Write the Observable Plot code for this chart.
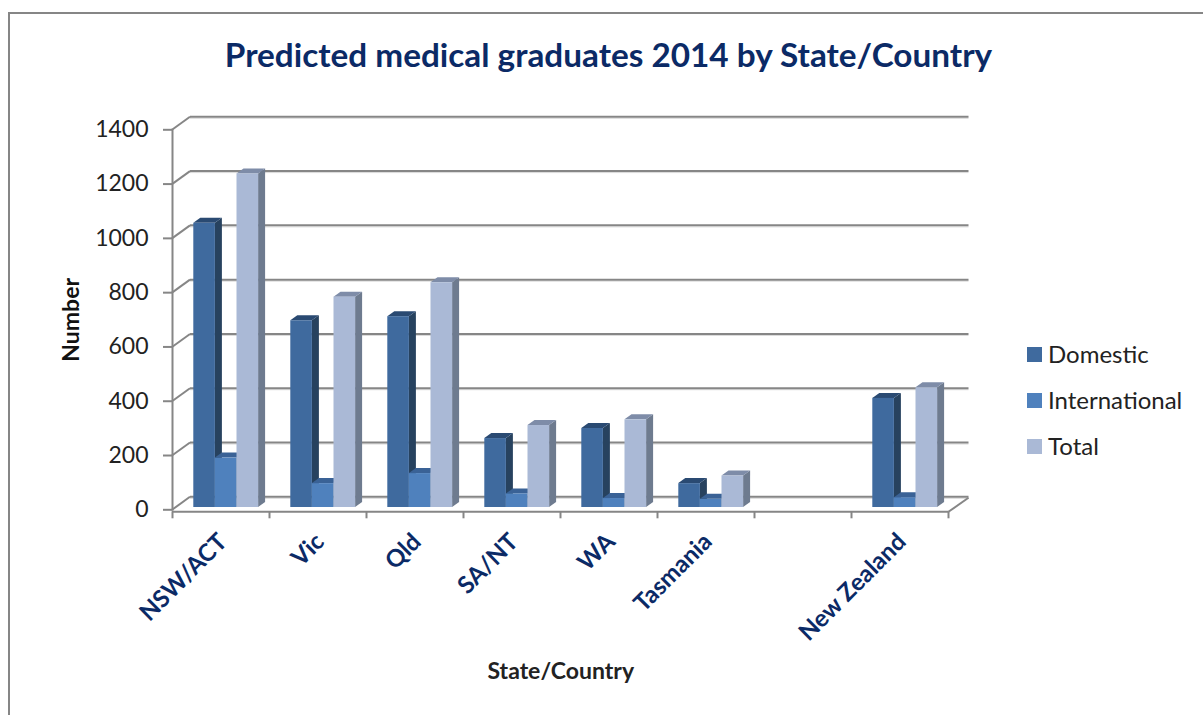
<!DOCTYPE html>
<html>
<head>
<meta charset="utf-8">
<script src="https://cdn.jsdelivr.net/npm/d3@7"></script>
<script src="https://cdn.jsdelivr.net/npm/@observablehq/plot@0.6"></script>
<style>
  html, body { margin: 0; padding: 0; background: #fff; }
  #wrap { position: relative; width: 1203px; height: 715px; overflow: hidden; font-family: Lato, sans-serif; }
  #border { position: absolute; left: 8px; top: 12px; width: 1300px; height: 800px; border: 2px solid #868686; }
  #chart { position: absolute; left: 0; top: 0; }
  #title { position: absolute; left: 0; top: 34px; width: 1217px; text-align: center; font-size: 33.3px; font-weight: 700; color: #0b2a66; line-height: 40px; white-space: nowrap; }
  .item { position: absolute; left: 1027px; height: 30px; display: flex; align-items: center; font-size: 24px; color: #222; white-space: nowrap; }
  .item i { display: block; width: 15px; height: 15px; margin-right: 6px; }
</style>
</head>
<body>
<div id="wrap">
  <div id="border"></div>
  <div id="chart"></div>
  <div id="title">Predicted medical graduates 2014 by State/Country</div>
  <div id="legend"></div>
</div>
<script>
const categories = ["NSW/ACT", "Vic", "Qld", "SA/NT", "WA", "Tasmania", " ", "New Zealand"];
const domestic = [1047, 688, 703, 254, 291, 88, null, 402];
const international = [182, 88, 125, 50, 33, 30, null, 36];
const total = [1229, 775, 828, 302, 323, 116, null, 441];
const yTicks = [0, 200, 400, 600, 800, 1000, 1200, 1400];
const seriesNames = ["Domestic", "International", "Total"];
const frontColors = ["#3f6a9e", "#4f81bd", "#aab9d6"];
const sideColors = ["#27425f", "#2f4d72", "#6e7b8f"];
const topColors = ["#2a4a72", "#3a6296", "#7e8ca8"];

const gridColor = "#868686";
const depthX = 7, depthY = 5;

// Turns each bar into a 3D box: the side and top faces follow the bar that the scales placed.
function box(side, top) {
  return (index, scales, values, dims, context, next) => {
    const g = next(index, scales, values, dims, context);
    d3.select(g).selectAll("rect").each(function () {
      const x = +this.getAttribute("x"), y = +this.getAttribute("y");
      const w = +this.getAttribute("width"), h = +this.getAttribute("height");
      const parent = this.parentNode;
      const add = (pts, fill) => {
        const p = document.createElementNS("http://www.w3.org/2000/svg", "polygon");
        p.setAttribute("points", pts.map((q) => q.join(",")).join(" "));
        p.setAttribute("fill", fill);
        parent.insertBefore(p, this);
      };
      add([[x + w, y + h], [x + w + depthX, y + h - depthY], [x + w + depthX, y - depthY], [x + w, y]], side);
      add([[x, y], [x + depthX, y - depthY], [x + w + depthX, y - depthY], [x + w, y]], top);
    });
    return g;
  };
}

// Turns a horizontal rule into the short diagonal that climbs from the front plane to the back wall.
function diagonal(end) {
  return (index, scales, values, dims, context, next) => {
    const g = next(index, scales, values, dims, context);
    d3.select(g).selectAll("line").each(function () {
      const x = +this.getAttribute(end === "left" ? "x1" : "x2");
      const y = +this.getAttribute("y1");
      this.setAttribute("x1", x);
      this.setAttribute("x2", x + (end === "left" ? 18 : 20));
      this.setAttribute("y2", y - (end === "left" ? 13 : 14));
    });
    return g;
  };
}

const slot = [
  { insetLeft: 21.3, insetRight: 54.1 },
  { insetLeft: 42.9, insetRight: 32.5 },
  { insetLeft: 64.5, insetRight: 10.9 }
];
const seriesValues = [domestic, international, total];

const plot = Plot.plot({
  width: 1203,
  height: 715,
  marginLeft: 172,
  marginRight: 254.5,
  marginTop: 129.3,
  marginBottom: 205.7,
  style: { background: "transparent", fontFamily: "Lato, sans-serif" },
  x: { domain: categories, padding: 0, label: null },
  y: { domain: [0, 1400], label: null },
  marks: [
    Plot.ruleY(yTicks, { dx: 18, dy: -11.5, insetRight: -2, stroke: "#d9d9d9", strokeWidth: 1 }),
    Plot.ruleY(yTicks, { dx: 18, dy: -13, insetRight: -2, stroke: gridColor, strokeWidth: 2 }),
    Plot.ruleY(yTicks, { stroke: gridColor, strokeWidth: 2, render: diagonal("left") }),
    Plot.ruleY([0], { dy: 2, stroke: gridColor, strokeWidth: 2, render: diagonal("right") }),
    Plot.ruleY([0], { dy: 2, stroke: gridColor, strokeWidth: 2 }),
    Plot.frame({ anchor: "left", stroke: gridColor, strokeWidth: 2 }),
    Plot.axisY({ ticks: yTicks, tickFormat: (d) => String(d), tickSize: 9, tickPadding: 15, fontSize: 23, label: null, strokeWidth: 2, stroke: gridColor, fill: "#222" }),
    Plot.axisX({ text: null, tickSize: 7, dx: -48.5, dy: 2, stroke: gridColor, strokeWidth: 2, label: null }),
    Plot.axisX({ text: null, ticks: ["New Zealand"], tickSize: 7, dx: 48.5, dy: 2, stroke: gridColor, strokeWidth: 2, label: null }),
    ...seriesValues.map((vals, s) =>
      Plot.rectY(categories, {
        x: (d) => d,
        y1: () => 0,
        y2: (d, i) => vals[i],
        dy: -2.3,
        fill: frontColors[s],
        ...slot[s],
        render: box(sideColors[s], topColors[s])
      })
    ),
    Plot.axisX({ tickSize: 0, tickRotate: -45, tickPadding: 28, dx: 2, fontSize: 24, fontWeight: 700, fill: "#0b2a66", label: null, filter: (d) => d !== " " }),
    Plot.text(["Number"], { frameAnchor: "left", textAnchor: "middle", rotate: -90, dx: -101, fontSize: 23, fontWeight: 700, fill: "#111" }),
    Plot.text(["State/Country"], { frameAnchor: "bottom", lineAnchor: "middle", dy: 162, fontSize: 23, fontWeight: 700, fill: "#222" })
  ]
});
document.getElementById("chart").appendChild(plot);

const legend = document.getElementById("legend");
seriesNames.forEach((name, i) => {
  const item = document.createElement("div");
  item.className = "item";
  item.style.top = 338 + i * 46 + "px";
  const swatch = document.createElement("i");
  swatch.style.background = frontColors[i];
  swatch.style.marginTop = "2px";
  item.appendChild(swatch);
  item.appendChild(document.createTextNode(name));
  legend.appendChild(item);
});
</script>
</body>
</html>
